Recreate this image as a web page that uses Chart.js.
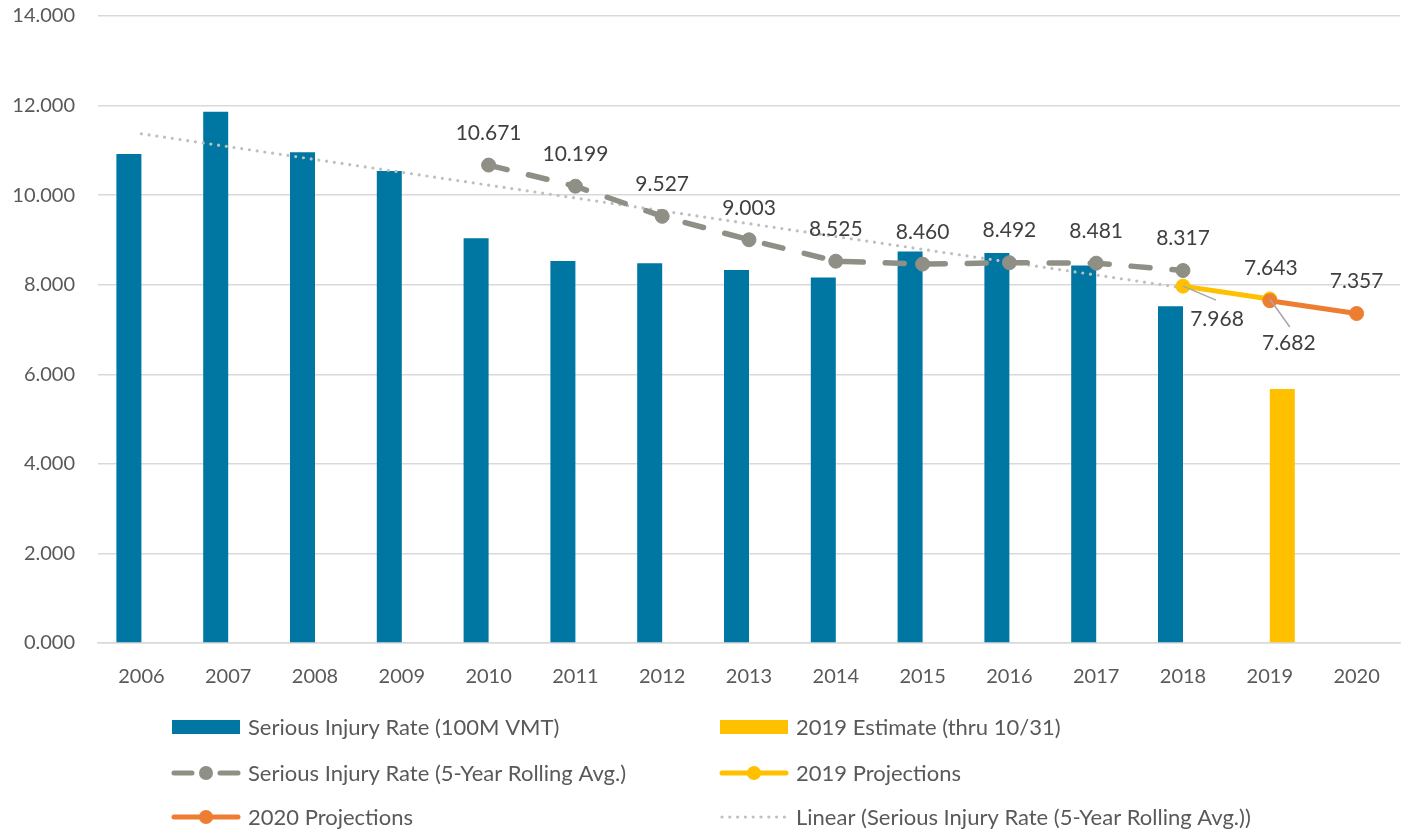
<!DOCTYPE html>
<html>
<head>
<meta charset="utf-8">
<script src="https://cdn.jsdelivr.net/npm/chart.js@4.4.0/dist/chart.umd.min.js"></script>
<style>
  html, body { margin: 0; padding: 0; background: #ffffff; }
  #wrap { width: 1413px; height: 835px; position: relative; }
</style>
</head>
<body>
<div id="wrap"><canvas id="c"></canvas></div>
<script>
const categories = ['2006','2007','2008','2009','2010','2011','2012','2013','2014','2015','2016','2017','2018','2019','2020'];
const injuryRate = [10.92, 11.86, 10.96, 10.54, 9.04, 8.53, 8.48, 8.33, 8.16, 8.74, 8.71, 8.43, 7.52, null, null];
const estimate2019 = [null, null, null, null, null, null, null, null, null, null, null, null, null, 5.67, null];
const rollingAvg = [null, null, null, null, 10.671, 10.199, 9.527, 9.003, 8.525, 8.460, 8.492, 8.481, 8.317, null, null];
const proj2019 = [null, null, null, null, null, null, null, null, null, null, null, null, 7.968, 7.682, null];
const proj2020 = [null, null, null, null, null, null, null, null, null, null, null, null, null, 7.643, 7.357];
const trendLine = [11.37, null, null, null, null, null, null, null, null, null, null, null, 7.93, null, null];
const yTicks = [0, 2, 4, 6, 8, 10, 12, 14];
const seriesNames = [
  'Serious Injury Rate (100M VMT)',
  '2019 Estimate (thru 10/31)',
  'Serious Injury Rate (5-Year Rolling Avg.)',
  '2019 Projections',
  '2020 Projections',
  'Linear (Serious Injury Rate (5-Year Rolling Avg.))'
];

const BLUE = '#0076A3', YELLOW = '#FFC000', GRAY = '#8F8F86', ORANGE = '#ED7D31', TREND = '#BFBFBF';
const FONT = 'Lato, "Open Sans", sans-serif';

// label placement styles (dx, dy from point; optional leader end)
const labelStyles = {
  2: { dx: 0, dy: -32 },
  3: { per: { 12: { dx: 34, dy: 33, lx: 33, ly: 14 }, 13: { dx: 19, dy: 44, lx: 20, ly: 28 } } },
  4: { per: { 13: { dx: 1, dy: -32 }, 14: { dx: 0, dy: -32 } } }
};

const labelPlugin = {
  id: 'pointLabels',
  afterDatasetsDraw(chart) {
    const ctx = chart.ctx;
    ctx.save();
    ctx.font = '21px ' + FONT;
    ctx.textAlign = 'center';
    ctx.textBaseline = 'middle';
    Object.keys(labelStyles).forEach(k => {
      const di = +k;
      const st = labelStyles[k];
      const meta = chart.getDatasetMeta(di);
      const data = chart.data.datasets[di].data;
      meta.data.forEach((el, i) => {
        const v = data[i];
        if (v === null || v === undefined) return;
        const s = st.per ? st.per[i] : st;
        if (!s) return;
        if (s.lx !== undefined) {
          ctx.strokeStyle = '#A6A6A6';
          ctx.lineWidth = 1.5;
          ctx.beginPath();
          ctx.moveTo(el.x, el.y);
          ctx.lineTo(el.x + s.lx, el.y + s.ly);
          ctx.stroke();
        }
        ctx.fillStyle = '#404040';
        ctx.fillText(v.toFixed(3), el.x + s.dx, el.y + s.dy);
      });
    });
    ctx.restore();
  }
};

const legendPlugin = {
  id: 'customLegend',
  afterDraw(chart) {
    const ctx = chart.ctx;
    ctx.save();
    const cols = [172, 720];
    const rows = [727, 773, 817];
    const items = [
      { type: 'box', color: BLUE },
      { type: 'box', color: YELLOW },
      { type: 'line', color: GRAY, dash: true },
      { type: 'line', color: YELLOW },
      { type: 'line', color: ORANGE },
      { type: 'dots', color: TREND }
    ];
    items.forEach((it, idx) => {
      const x = cols[idx % 2];
      const y = rows[Math.floor(idx / 2)];
      const w = 68;
      if (it.type === 'box') {
        ctx.fillStyle = it.color;
        ctx.fillRect(x, y - 7, w, 14);
      } else if (it.type === 'line') {
        ctx.strokeStyle = it.color;
        ctx.lineWidth = 5;
        ctx.lineCap = 'round';
        ctx.beginPath();
        if (it.dash) {
          ctx.moveTo(x + 2, y); ctx.lineTo(x + 20, y);
          ctx.moveTo(x + 48, y); ctx.lineTo(x + 66, y);
        } else {
          ctx.moveTo(x + 2, y); ctx.lineTo(x + 66, y);
        }
        ctx.stroke();
        ctx.fillStyle = it.color;
        ctx.beginPath();
        ctx.arc(x + w / 2, y, 7, 0, Math.PI * 2);
        ctx.fill();
      } else {
        ctx.fillStyle = it.color;
        for (let d = 0; d < 9; d++) {
          ctx.beginPath();
          ctx.arc(x + 2 + d * 7.8, y, 1.6, 0, Math.PI * 2);
          ctx.fill();
        }
      }
      ctx.fillStyle = '#595959';
      ctx.font = '22px ' + FONT;
      ctx.textAlign = 'left';
      ctx.textBaseline = 'middle';
      ctx.fillText(seriesNames[idx], x + w + 8, y + 1);
    });
    ctx.restore();
  }
};

new Chart(document.getElementById('c'), {
  data: {
    labels: categories,
    datasets: [
      { type: 'bar', label: seriesNames[0], data: injuryRate, backgroundColor: BLUE, order: 10,
        categoryPercentage: 0.576, barPercentage: 1.0 },
      { type: 'bar', label: seriesNames[1], data: estimate2019, backgroundColor: YELLOW, order: 11,
        categoryPercentage: 0.576, barPercentage: 1.0 },
      { type: 'line', label: seriesNames[2], data: rollingAvg, borderColor: GRAY, backgroundColor: GRAY,
        borderWidth: 5.5, borderDash: [19, 22], borderCapStyle: 'round', pointRadius: 7, pointBorderWidth: 1,
        pointBackgroundColor: GRAY, pointBorderColor: GRAY, order: 4, spanGaps: false },
      { type: 'line', label: seriesNames[3], data: proj2019, borderColor: YELLOW, backgroundColor: YELLOW,
        borderWidth: 5, pointRadius: 7, pointBorderWidth: 1, pointBackgroundColor: YELLOW, pointBorderColor: YELLOW, order: 3 },
      { type: 'line', label: seriesNames[4], data: proj2020, borderColor: ORANGE, backgroundColor: ORANGE,
        borderWidth: 5, pointRadius: 7, pointBorderWidth: 1, pointBackgroundColor: ORANGE, pointBorderColor: ORANGE, order: 2 },
      { type: 'line', label: seriesNames[5], data: trendLine, borderColor: TREND, borderWidth: 3.2,
        borderDash: [0, 7.8], borderCapStyle: 'round', pointRadius: 0, spanGaps: true, order: 5 }
    ]
  },
  options: {
    responsive: true,
    maintainAspectRatio: false,
    animation: false,
    layout: { padding: { top: 0, right: 13, bottom: 142, left: 0 } },
    plugins: { legend: { display: false }, tooltip: { enabled: false } },
    scales: {
      x: {
        grid: { display: false, drawTicks: false },
        border: { display: true, color: '#D9D9D9', width: 1.5 },
        ticks: { color: '#595959', font: { family: FONT, size: 20 }, padding: 22, maxRotation: 0 },
        afterFit(s) { s.height = 50; }
      },
      y: {
        min: 0, max: 14,
        afterBuildTicks(s) { s.ticks = yTicks.map(v => ({ value: v })); },
        grid: { color: '#D9D9D9', lineWidth: 1.5, drawTicks: true, tickLength: 19, tickColor: 'rgba(0,0,0,0)' },
        border: { display: false },
        ticks: { color: '#595959', font: { family: FONT, size: 20 }, padding: 4,
                 callback: v => Number(v).toFixed(3) },
        afterFit(s) { s.width = 98; }
      }
    }
  },
  plugins: [labelPlugin, legendPlugin]
});
</script>
</body>
</html>
